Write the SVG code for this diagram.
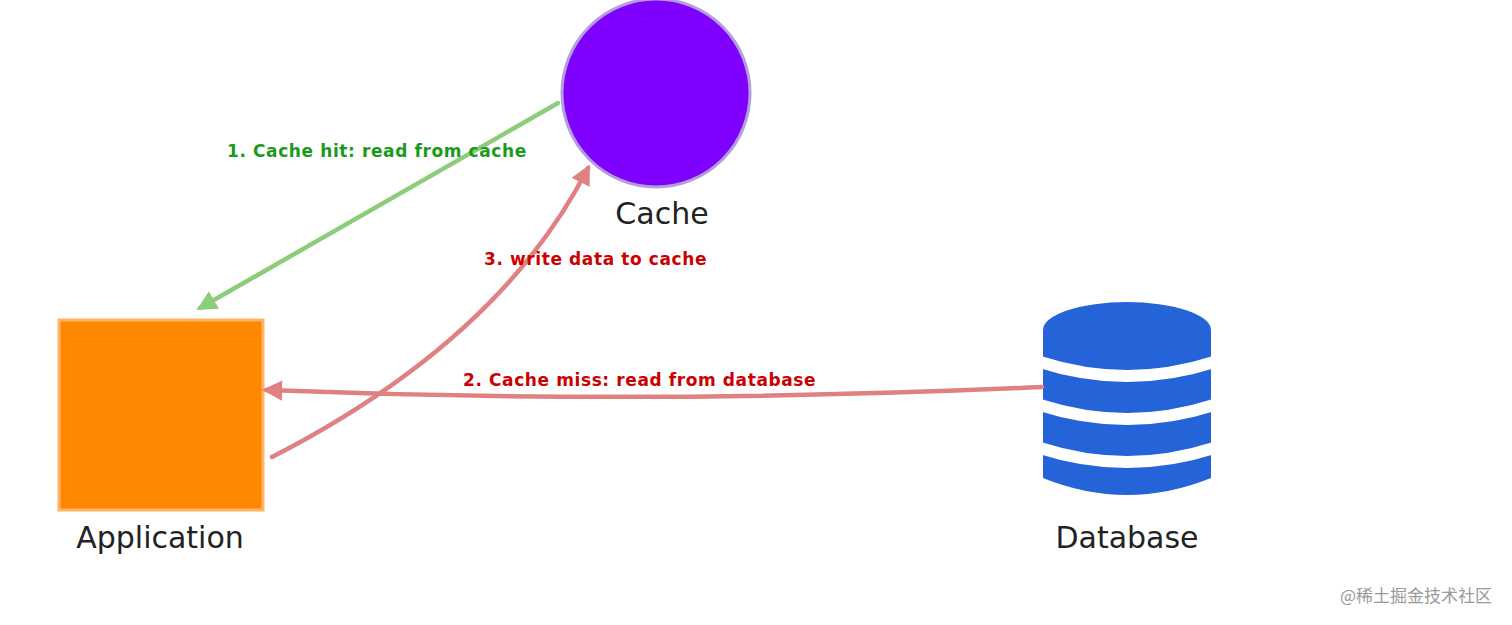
<svg xmlns="http://www.w3.org/2000/svg" width="1512" height="625" viewBox="0 0 1512 625">
<style>
.lbl{font-family:"DejaVu Sans","Liberation Sans",sans-serif;font-size:30px;fill:#222}
.edge{font-family:"DejaVu Sans","Liberation Sans",sans-serif;font-size:17px;font-weight:bold;letter-spacing:0.6px}
.g{fill:#1a9a1a}.r{fill:#cc0000}
.c{fill:none;stroke-width:4.5;stroke-linecap:round}
</style>
<defs>
<marker id="ag" viewBox="0 0 10 10" refX="8" refY="5" markerWidth="4.5" markerHeight="4.5" orient="auto-start-reverse"><path d="M0,0L10,5L0,10z" fill="#8ccc7a"/></marker>
<marker id="ar" viewBox="0 0 10 10" refX="8" refY="5" markerWidth="4.5" markerHeight="4.5" orient="auto-start-reverse"><path d="M0,0L10,5L0,10z" fill="#e08080"/></marker>
</defs>
<rect width="1512" height="625" fill="#fff"/>
<g id="cache"><circle cx="656" cy="93" r="94" fill="#8000ff" stroke="#b49ddb" stroke-width="3"/><text class="lbl" x="662" y="224" text-anchor="middle">Cache</text></g>
<g id="application"><rect x="59" y="320" width="204" height="190" fill="#ff8800" stroke="#ffb366" stroke-width="3"/><text class="lbl" x="160" y="548" text-anchor="middle">Application</text></g>
<g id="database">
<path d="M1043,330 A84,28 0 0 1 1211,330 V478 Q1127,512 1043,478 Z" fill="#2563d8"/>
<path d="M1040,362 Q1127,390 1214,362 M1040,405 Q1127,433 1214,405 M1040,448 Q1127,476 1214,448" fill="none" stroke="#fff" stroke-width="12"/>
<text class="lbl" x="1127" y="548" text-anchor="middle">Database</text></g>
<g id="connectors">
<path class="c" d="M558,103 L200,308" stroke="#8ccc7a" marker-end="url(#ag)"/>
<path class="c" d="M1042,387 Q650,405 266,390" stroke="#e08080" marker-end="url(#ar)"/>
<path class="c" d="M272,457 Q500,340 588,168" stroke="#e08080" marker-end="url(#ar)"/>
<text class="edge g" x="227" y="157">1. Cache hit: read from cache</text>
<text class="edge r" x="484" y="265">3. write data to cache</text>
<text class="edge r" x="463" y="386">2. Cache miss: read from database</text>
</g>
<text x="1492" y="602" text-anchor="end" font-family="Noto Sans CJK SC,sans-serif" font-size="17" fill="#999">@稀土掘金技术社区</text>
</svg>
